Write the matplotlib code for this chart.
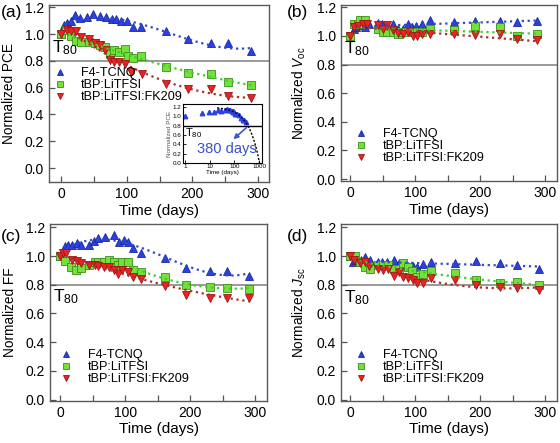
import numpy as np
import matplotlib
matplotlib.use("Agg")
import matplotlib.pyplot as plt
import matplotlib.ticker as ticker

plt.rcParams["font.family"] = ["Liberation Sans", "DejaVu Sans"]
plt.rcParams["mathtext.fontset"] = "custom"
plt.rcParams["mathtext.rm"] = "Liberation Sans"
plt.rcParams["mathtext.it"] = "Liberation Sans:italic"

# ---- data ---------------------------------------------------------------
labels = ["F4-TCNQ", "tBP:LiTFSI", "tBP:LiTFSI:FK209"]

# (a) PCE
pce_t_f4 = [0, 5, 9, 15, 22, 29, 40, 49, 59, 69, 77, 84, 91, 100, 110, 122, 160, 193, 228, 254, 289]
pce_f4 = [1.0, 1.07, 1.085, 1.10, 1.14, 1.12, 1.125, 1.15, 1.135, 1.13, 1.11, 1.11, 1.10, 1.10,
          1.05, 1.05, 1.02, 0.96, 0.93, 0.93, 0.87]
pce_t_li = [0, 7, 15, 23, 30, 43, 51, 59, 67, 74, 81, 88, 97, 102, 109, 122, 160, 193, 228, 254, 289]
pce_li = [1.0, 1.03, 0.985, 0.95, 0.94, 0.94, 0.93, 0.92, 0.90, 0.855, 0.88, 0.865, 0.885, 0.835,
          0.82, 0.835, 0.755, 0.71, 0.70, 0.64, 0.62]
pce_t_fk = [0, 9, 15, 23, 30, 43, 51, 59, 67, 74, 81, 88, 97, 107, 123, 160, 193, 228, 254, 289]
pce_fk = [1.0, 1.03, 1.02, 1.02, 0.98, 0.96, 0.93, 0.92, 0.88, 0.81, 0.79, 0.79, 0.775, 0.72,
          0.70, 0.63, 0.59, 0.59, 0.535, 0.52]

# (b) Voc
voc_t_f4 = [0, 5, 9, 17, 23, 29, 42, 48, 55, 66, 73, 81, 89, 95, 101, 110, 123, 160, 192, 230, 256, 288]
voc_f4 = [1.0, 1.047, 1.06, 1.075, 1.06, 1.083, 1.09, 1.085, 1.06, 1.08, 1.05, 1.05, 1.08, 1.06,
          1.07, 1.08, 1.11, 1.095, 1.105, 1.105, 1.095, 1.105]
voc_t_li = [0, 5, 11, 15, 22, 42, 50, 56, 66, 73, 81, 89, 96, 102, 110, 123, 160, 192, 230, 256, 288]
voc_li = [1.0, 1.085, 1.085, 1.11, 1.11, 1.05, 1.03, 1.03, 1.03, 1.015, 1.03, 1.025, 1.025, 1.03,
          1.03, 1.05, 1.04, 1.07, 1.06, 1.0, 1.01]
voc_t_fk = [0, 5, 12, 19, 25, 42, 50, 56, 66, 73, 81, 89, 96, 102, 110, 123, 160, 192, 230, 256, 288]
voc_fk = [1.0, 1.06, 1.07, 1.08, 1.085, 1.075, 1.05, 1.075, 1.04, 1.02, 1.01, 1.025, 1.0, 1.0,
          1.01, 1.01, 1.01, 1.005, 1.01, 0.975, 0.97]

# (c) FF
ff_t_f4 = [0, 8, 12, 18, 26, 32, 44, 52, 58, 69, 83, 91, 98, 104, 112, 124, 161, 194, 230, 257, 290]
ff_f4 = [1.0, 1.067, 1.074, 1.078, 1.094, 1.08, 1.08, 1.106, 1.124, 1.13, 1.147, 1.10, 1.11, 1.10,
         1.055, 1.02, 0.987, 0.918, 0.895, 0.895, 0.86]
ff_t_li = [0, 8, 17, 25, 32, 45, 53, 59, 68, 76, 83, 89, 96, 105, 112, 124, 161, 194, 230, 257, 290]
ff_li = [1.0, 0.964, 0.922, 0.906, 0.918, 0.936, 0.959, 0.959, 0.959, 0.97, 0.957, 0.94, 0.959,
         0.957, 0.90, 0.888, 0.853, 0.798, 0.787, 0.776, 0.773]
ff_t_fk = [0, 5, 9, 18, 26, 32, 45, 53, 59, 68, 76, 83, 89, 96, 104, 112, 124, 161, 194, 230, 257, 290]
ff_fk = [1.0, 1.02, 1.02, 0.975, 0.963, 0.952, 0.94, 0.936, 0.933, 0.922, 0.922, 0.906, 0.877,
         0.906, 0.888, 0.853, 0.838, 0.79, 0.727, 0.711, 0.711, 0.707]

# (d) Jsc
jsc_t_f4 = [0, 4, 9, 17, 23, 30, 43, 49, 56, 67, 75, 82, 89, 96, 102, 111, 124, 161, 193, 230, 256, 290]
jsc_f4 = [1.0, 0.957, 0.97, 0.97, 0.99, 0.97, 0.957, 0.957, 0.957, 0.97, 0.948, 0.94, 0.93, 0.93,
          0.925, 0.945, 0.96, 0.952, 0.968, 0.948, 0.936, 0.91]
jsc_t_li = [0, 7, 14, 22, 30, 43, 50, 58, 67, 75, 81, 89, 95, 103, 111, 124, 161, 193, 230, 256, 290]
jsc_li = [1.0, 1.0, 0.957, 0.925, 0.91, 0.936, 0.936, 0.936, 0.91, 0.91, 0.952, 0.925, 0.895,
          0.856, 0.872, 0.895, 0.879, 0.833, 0.81, 0.819, 0.80]
jsc_t_fk = [0, 5, 14, 22, 29, 43, 50, 58, 67, 75, 81, 89, 96, 103, 111, 124, 161, 193, 230, 256, 290]
jsc_fk = [1.0, 0.97, 0.952, 0.957, 0.934, 0.91, 0.906, 0.91, 0.86, 0.89, 0.856, 0.849, 0.83,
          0.815, 0.815, 0.845, 0.83, 0.80, 0.787, 0.776, 0.764]

t80_level = 0.8
t80_days = 380

# ---- styles --------------------------------------------------------------
marker_styles = [
    dict(marker="^", mfc="#2b3fe6", mec="#1a2a9a"),
    dict(marker="s", mfc="#74e03a", mec="#3d8f1c"),
    dict(marker="v", mfc="#ee2222", mec="#9c1515"),
]
fit_colors = ["#3347d0", "#3ccf2a", "#a83030"]


def draw_panel(ax, series, fits, ylabel, ylim, xlim, t80_y, t80_va):
    for (t, y), st, lab in zip(series, marker_styles, labels):
        ax.plot(t, y, linestyle="none", markersize=6.2, mew=0.6, label=lab, **st)
    for (t, y), (deg, t0, t1, tmin), c in zip(series, fits, fit_colors):
        t = np.asarray(t, float)
        y = np.asarray(y, float)
        sel = t >= tmin
        coef = np.polyfit(t[sel], y[sel], deg)
        tt = np.linspace(t0, t1, 100)
        ax.plot(tt, np.polyval(coef, tt), linestyle=":", color=c, lw=1.6)

    ax.axhline(t80_level, color="#9a9a9a", lw=1.4, zorder=0)
    ax.text(xlim[0] + 5, t80_y, r"T$_{\rm 80}$", fontsize=12.5, va=t80_va, ha="left")

    ax.set_xlim(*xlim)
    ax.set_ylim(*ylim)
    ax.xaxis.set_major_locator(ticker.MultipleLocator(100))
    ax.xaxis.set_minor_locator(ticker.MultipleLocator(50))
    ax.yaxis.set_major_locator(ticker.MultipleLocator(0.2))
    ax.yaxis.set_major_formatter(ticker.FormatStrFormatter("%.1f"))
    ax.tick_params(which="both", direction="in", length=4, width=0.9,
                   color="#555555", labelsize=10, top=False, right=False)
    ax.tick_params(axis="x", pad=3.5)
    for s in ax.spines.values():
        s.set_color("#5a5a5a")
        s.set_linewidth(1.0)
    ax.set_xlabel("Time (days)", fontsize=11, labelpad=2)
    ax.set_ylabel(ylabel, fontsize=9.8, labelpad=6)


fig = plt.figure(figsize=(5.6, 4.43), dpi=100)

ax_a = fig.add_axes([0.0875, 0.5892, 0.393, 0.3995])
ax_b = fig.add_axes([0.609, 0.5914, 0.386, 0.3973])
ax_c = fig.add_axes([0.0893, 0.0955, 0.388, 0.3989])
ax_d = fig.add_axes([0.609, 0.0955, 0.386, 0.3989])

draw_panel(ax_a,
           [(pce_t_f4, pce_f4), (pce_t_li, pce_li), (pce_t_fk, pce_fk)],
           [(3, 5, 290, 0), (2, 10, 290, 5), (2, 5, 290, 0)],
           "Normalized PCE", (-0.104, 1.217), (-18.3, 316.7), 0.83, "bottom")
draw_panel(ax_b,
           [(voc_t_f4, voc_f4), (voc_t_li, voc_li), (voc_t_fk, voc_fk)],
           [(1, 10, 290, 15), (1, 10, 290, 15), (1, 10, 290, 15)],
           r"Normalized $V_{\rm oc}$", (-0.014, 1.216), (-14.5, 318.5), 0.845, "bottom")
draw_panel(ax_c,
           [(ff_t_f4, ff_f4), (ff_t_li, ff_li), (ff_t_fk, ff_fk)],
           [(3, 20, 290, 0), (2, 110, 290, 100), (2, 0, 290, 0)],
           "Normalized FF", (-0.007, 1.223), (-15.4, 318.5), 0.785, "top")
draw_panel(ax_d,
           [(jsc_t_f4, jsc_f4), (jsc_t_li, jsc_li), (jsc_t_fk, jsc_fk)],
           [(1, 30, 290, 20), (2, 5, 290, 0), (2, 5, 290, 0)],
           r"Normalized $J_{\rm sc}$", (-0.007, 1.223), (-14.5, 318.5), 0.775, "top")

legend_anchor = {ax_a: (0.02, 0.648), ax_b: (0.065, 0.30), ax_c: (0.045, 0.29), ax_d: (0.065, 0.29)}
for ax, anchor in legend_anchor.items():
    ax.legend(loc="upper left", bbox_to_anchor=anchor, frameon=False, fontsize=9.1,
              markerscale=0.72, handlelength=1.0, handletextpad=1.2,
              labelspacing=0.0, borderpad=0.0, borderaxespad=0.0)

for lab, x, y in [("(a)", 0.002, 0.972), ("(b)", 0.512, 0.972),
                  ("(c)", 0.002, 0.467), ("(d)", 0.512, 0.467)]:
    fig.text(x, y, lab, fontsize=12.5, va="center", ha="left")

# ---- inset of (a): log time axis with T80 extrapolation -----------------
ax_in = fig.add_axes([0.3268, 0.632, 0.141, 0.133])
t_in = np.asarray(pce_t_f4, float)
t_in = np.where(t_in == 0, 1, t_in)
ax_in.plot(t_in, pce_f4, linestyle="none", marker="^", markersize=3.2,
           mfc="#2b3fe6", mec="#2b3fe6")
sel = np.asarray(pce_t_f4) >= 45
coef = np.polyfit(np.asarray(pce_t_f4, float)[sel], np.asarray(pce_f4)[sel], 1)
tt = np.logspace(np.log10(20), np.log10(1100), 120)
ax_in.plot(tt, np.clip(np.polyval(coef, tt), 0, None), "k--", lw=1.0, dashes=(1.5, 1.2))
ax_in.axhline(t80_level, color="black", lw=1.0)
ax_in.set_xscale("log")
ax_in.set_xlim(0.83, 1310)
ax_in.set_ylim(0, 1.26)
ax_in.xaxis.set_major_locator(ticker.LogLocator(base=10, numticks=5))
ax_in.xaxis.set_major_formatter(ticker.FuncFormatter(lambda v, p: f"{v:g}"))
ax_in.xaxis.set_minor_locator(ticker.NullLocator())
ax_in.yaxis.set_major_locator(ticker.MultipleLocator(0.2))
ax_in.yaxis.set_major_formatter(ticker.FormatStrFormatter("%.1f"))
ax_in.tick_params(direction="in", length=2, width=0.6, labelsize=4.5, pad=1)
for s in ax_in.spines.values():
    s.set_linewidth(0.8)
ax_in.set_xlabel("Time (days)", fontsize=4.5, labelpad=0.5)
ax_in.set_ylabel("Normalized PCE", fontsize=4.5, labelpad=0.5, color="#555555")
ax_in.text(1.0, 0.78, r"T$_{\rm 80}$", fontsize=8, va="top", ha="left")
ax_in.annotate("", xy=(75, 0.47), xytext=(t80_days, t80_level),
               arrowprops=dict(arrowstyle="-|>", color="#3a55d0", lw=1.2,
                               mutation_scale=7))
ax_in.text(48, 0.3, f"{t80_days} days", color="#3a4fd0", fontsize=10.5,
           ha="center", va="center")

fig.savefig("out.png", dpi=100)
